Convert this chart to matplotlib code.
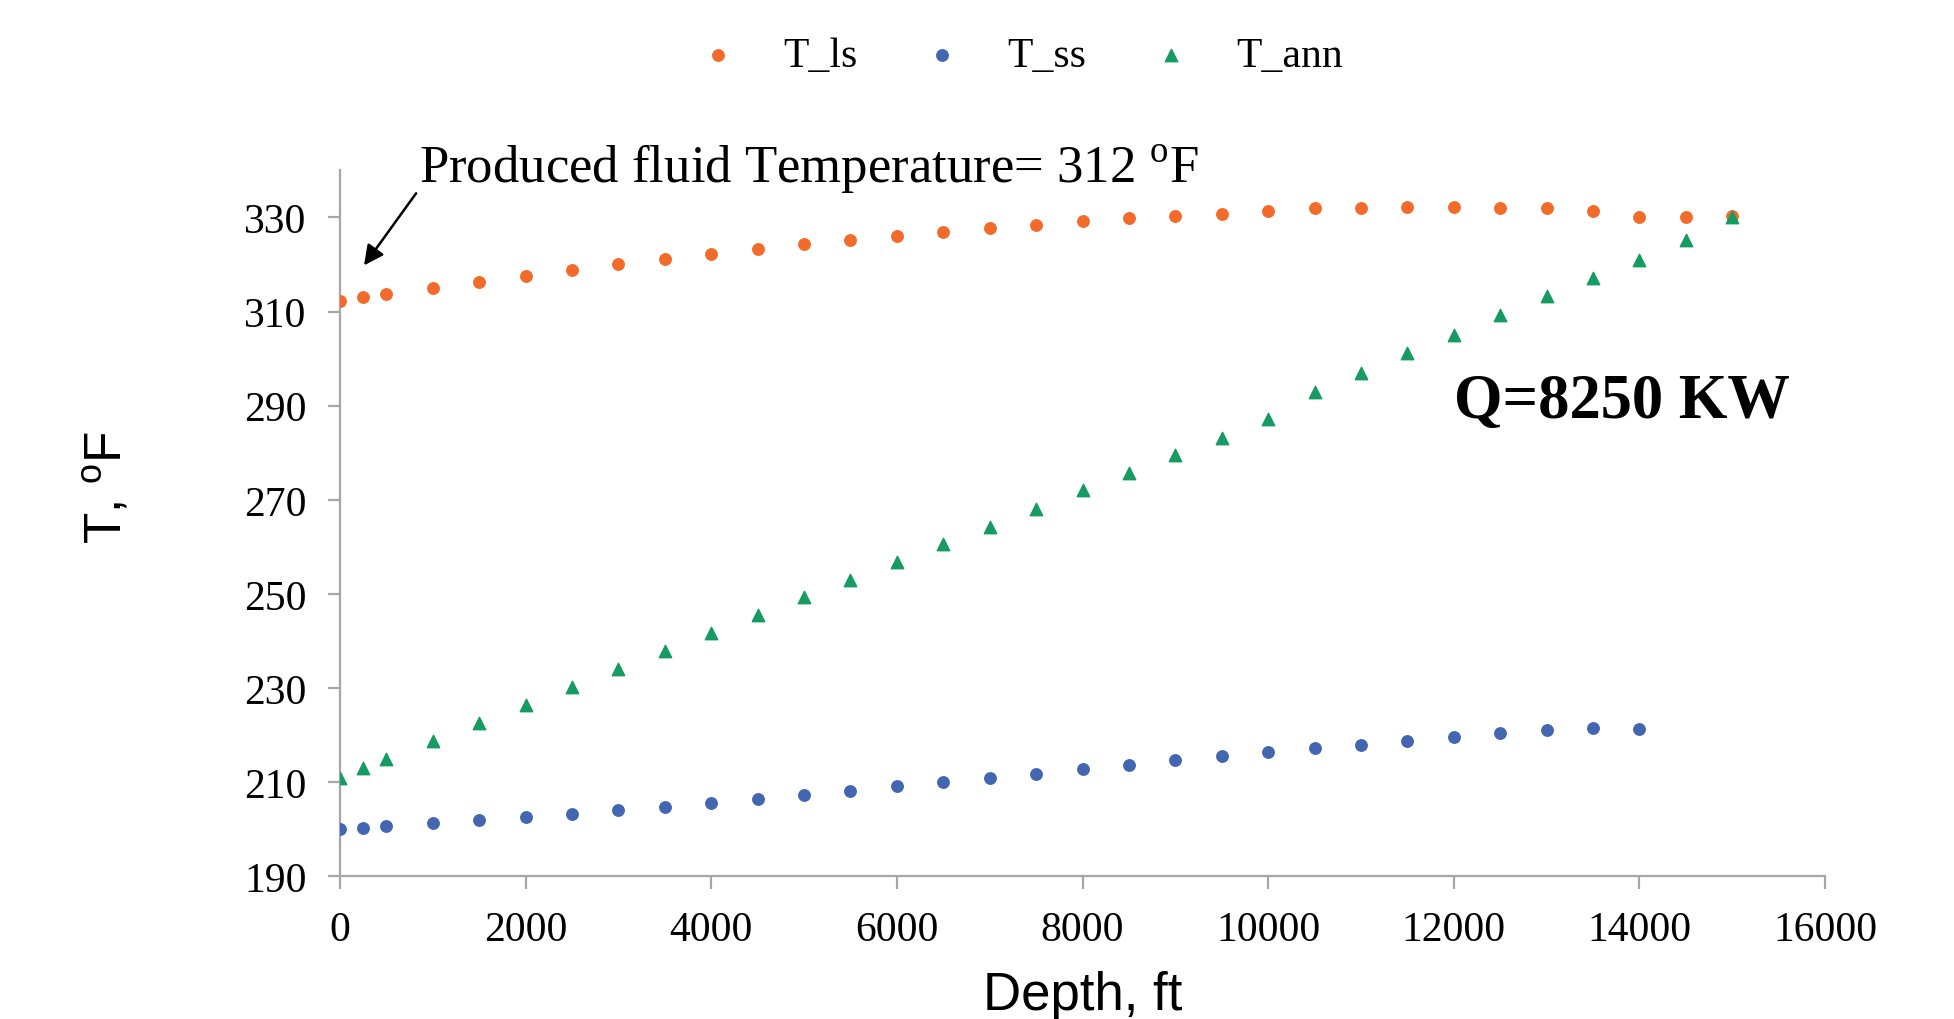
import matplotlib.pyplot as plt

depth_ls = [0, 250, 500, 1000, 1500, 2000, 2500, 3000, 3500, 4000, 4500, 5000, 5500, 6000, 6500,
            7000, 7500, 8000, 8500, 9000, 9500, 10000, 10500, 11000, 11500, 12000, 12500, 13000,
            13500, 14000, 14500, 15000]
T_ls = [312.3, 313.1, 313.7, 315.1, 316.2, 317.6, 318.8, 320.0, 321.2, 322.2, 323.3, 324.3, 325.3,
        326.0, 326.9, 327.7, 328.4, 329.2, 329.8, 330.2, 330.8, 331.3, 332.1, 332.1, 332.2, 332.2,
        332.1, 331.9, 331.3, 330.1, 330.1, 330.3]

depth_ss = depth_ls[:30]
T_ss = [200.0, 200.3, 200.6, 201.2, 201.9, 202.5, 203.3, 204.0, 204.8, 205.6, 206.5, 207.3, 208.2,
        209.1, 210.0, 210.8, 211.8, 212.7, 213.7, 214.7, 215.6, 216.5, 217.2, 217.9, 218.8, 219.6,
        220.4, 221.0, 221.5, 221.3]

depth_ann = depth_ls
T_ann = [210.8, 213.0, 214.9, 218.8, 222.6, 226.4, 230.2, 234.1, 237.9, 241.6, 245.5, 249.3, 253.0,
         256.7, 260.7, 264.3, 268.0, 272.0, 275.7, 279.6, 283.2, 287.1, 292.9, 296.9, 301.1, 305.1,
         309.2, 313.2, 317.2, 321.0, 325.3, 330.1]

serif = 'Liberation Serif'
sans = 'Liberation Sans'
gray = '#a6a6a6'

fig = plt.figure(figsize=(19.54, 10.2), dpi=100)
ax = fig.add_axes([0.174, 0.140, 0.760, 0.692])

ax.scatter(depth_ls, T_ls, s=68, color='#f26b2a', marker='o', label='T_ls', zorder=3)
ax.scatter(depth_ss, T_ss, s=68, color='#4266b0', marker='o', label='T_ss', zorder=3)
ax.scatter(depth_ann, T_ann, s=80, color='#169b62', marker='^', label='T_ann', zorder=3)

ax.set_xlim(0, 16000)
ax.set_ylim(190, 340)
ax.set_xticks(range(0, 16001, 2000))
ax.set_yticks(range(190, 331, 20))

for s in ['top', 'right']:
    ax.spines[s].set_visible(False)
for s in ['left', 'bottom']:
    ax.spines[s].set_color(gray)
    ax.spines[s].set_linewidth(1.6)
ax.tick_params(axis='both', direction='out', length=9, width=1.6, color=gray, labelsize=30)
ax.tick_params(axis='y', pad=15)
ax.tick_params(axis='x', pad=16)
for lab in ax.get_xticklabels() + ax.get_yticklabels():
    lab.set_fontfamily(serif)

ax.set_xlabel('Depth, ft', fontsize=38, fontfamily=sans, labelpad=15)
fig.text(0.055, 0.5225, r'T, $^{\mathregular{o}}$F', fontsize=37, fontfamily=sans,
         rotation=90, ha='center', va='center')

ax.annotate(r'Produced fluid Temperature= 312 $^{\mathregular{o}}$F', xy=(259, 319.8),
            xytext=(850, 340.5), fontsize=38, fontfamily=serif, va='center', ha='left',
            arrowprops=dict(arrowstyle='-|>', color='black', lw=1.8, mutation_scale=30,
                            shrinkA=0, shrinkB=0, relpos=(0.0, 0.1)),
            annotation_clip=False)

ax.text(12000, 290.8, 'Q=8250 KW', fontsize=45, fontweight='bold', fontfamily=serif,
        va='center', ha='left')

fig.legend(loc='upper center', bbox_to_anchor=(0.522, 1.0), ncol=3, frameon=False,
           prop={'family': serif, 'size': 30}, columnspacing=1.55, handletextpad=1.05,
           handlelength=1.0, markerscale=1.0)

fig.savefig('out.png', dpi=100)
